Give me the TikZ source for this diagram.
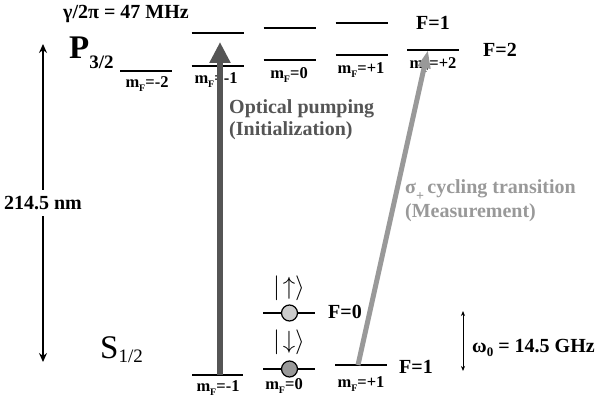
\documentclass[tikz,border=0pt]{standalone}
\usepackage{fontspec}
\setmainfont{Liberation Serif}
\usetikzlibrary{arrows.meta}

\definecolor{pumpgray}{HTML}{555555}
\definecolor{cyclegray}{HTML}{999999}
\newcommand{\mF}[1]{m\raisebox{-0.5ex}{\fontsize{10}{10}\selectfont F}#1}

\begin{document}
\begin{tikzpicture}[x=1pt,y=-1pt,
  lvl/.style={line width=2.6pt},
  lbl/.style={font=\fontsize{20}{22}\selectfont\bfseries, inner sep=0pt},
  mlbl/.style={font=\fontsize{16.5}{17}\selectfont\bfseries, inner sep=0pt},
  ket/.style={font=\fontsize{24}{26}\selectfont, inner sep=0pt},
  spin/.style={circle, draw, line width=1.2pt, minimum size=16pt, inner sep=0pt}]
\useasboundingbox (0,0) rectangle (602,404);

% P3/2 manifold, F=2 and F=1
\foreach \x/\y in {146/71, 217.5/66, 289.5/60, 361.5/55, 433/50}
  \draw[lvl] (\x-26,\y) -- (\x+26,\y);
\foreach \x/\y in {217.5/33, 289.5/28, 361.5/23}
  \draw[lvl] (\x-26,\y) -- (\x+26,\y);
\node[mlbl] (pm2) at (147,84) {\mF{=-2}};
\node[mlbl] (pm1) at (216,80) {\mF{=-1}};
\node[mlbl] (pz) at (289,75) {\mF{=0}};
\node[mlbl] (pp1) at (361,70) {\mF{=+1}};
\node[mlbl] (pp2) at (433,65) {\mF{=+2}};
\node[lbl] (pF1) at (433,23) {F=1};
\node[lbl] (pF2) at (500,50) {F=2};
\node[lbl] (gam) at (126,14) {γ/2π = 47 MHz};
\node[inner sep=0pt, anchor=base west] (P) at (69,59) {\fontsize{33}{34}\selectfont\bfseries P\raisebox{-0.6ex}{\fontsize{19}{20}\selectfont 3/2}};

% S1/2 manifold
\draw[lvl] (192,375) -- (243,375);
\draw[lvl] (263,369) -- (315,369);
\draw[lvl] (335,365) -- (387,365);
\draw[lvl] (263,313) -- (315,313);
\node[spin, fill=black!20] (up) at (289.5,313) {};
\node[spin, fill=black!40] (dn) at (289.5,369) {};
\node[ket] (upk) at (289,288) {$|\!\uparrow\rangle$};
\node[ket] (dnk) at (289,342) {$|\!\downarrow\rangle$};
\node[mlbl] (sm1) at (218,388) {\mF{=-1}};
\node[mlbl] (sz) at (284,386) {\mF{=0}};
\node[mlbl] (sp1) at (361,384) {\mF{=+1}};
\node[lbl] (sF0) at (345,312) {F=0};
\node[lbl] (sF1) at (416,367) {F=1};
\node[inner sep=0pt, anchor=base west] (S) at (100,358) {\fontsize{33}{34}\selectfont S\raisebox{-0.3ex}{\fontsize{19}{20}\selectfont 1/2}};

% optical pumping
\coordinate (pumpS) at (220,375);
\coordinate (pumpP) at (220,42);
\draw[line width=6pt, pumpgray, -{Triangle[length=21pt,width=20pt]}] (pumpS) -- (pumpP);
\node[lbl, pumpgray, anchor=west] (pumptxt) at (229,109) {Optical pumping};
\node[lbl, pumpgray, anchor=west] (inittxt) at (229,131) {(Initialization)};

% cycling transition
\coordinate (cycS) at (358,365);
\coordinate (cycP) at (428,50);
\draw[line width=5pt, cyclegray, -{Triangle[length=18pt,width=12pt]}] (cycS) -- (cycP);
\node[lbl, cyclegray, anchor=west] (cyctxt) at (405,190) {σ\raisebox{-0.7ex}{\fontsize{14}{14}\selectfont +}\,cycling transition};
\node[lbl, cyclegray, anchor=west] (meastxt) at (405,213) {(Measurement)};

% wavelength and hyperfine splitting
\coordinate (wlTop) at (43,44);
\coordinate (wlBot) at (43,362);
\draw[line width=1.6pt, {Stealth[length=9pt,width=8pt,inset=3pt]}-{Stealth[length=9pt,width=8pt,inset=3pt]}] (wlTop) -- node[lbl, fill=white, inner ysep=6pt] (wl) {214.5 nm} (wlBot);
\coordinate (hfTop) at (463,311);
\coordinate (hfBot) at (463,371);
\draw[line width=0.8pt, {Stealth[length=5pt,width=4pt,inset=1.5pt]}-{Stealth[length=5pt,width=4pt,inset=1.5pt]}] (hfTop) -- (hfBot);
\node[lbl, anchor=west] (hf) at (472,348) {ω\raisebox{-0.5ex}{\fontsize{13}{13}\selectfont 0} = 14.5 GHz};
\end{tikzpicture}
\end{document}
